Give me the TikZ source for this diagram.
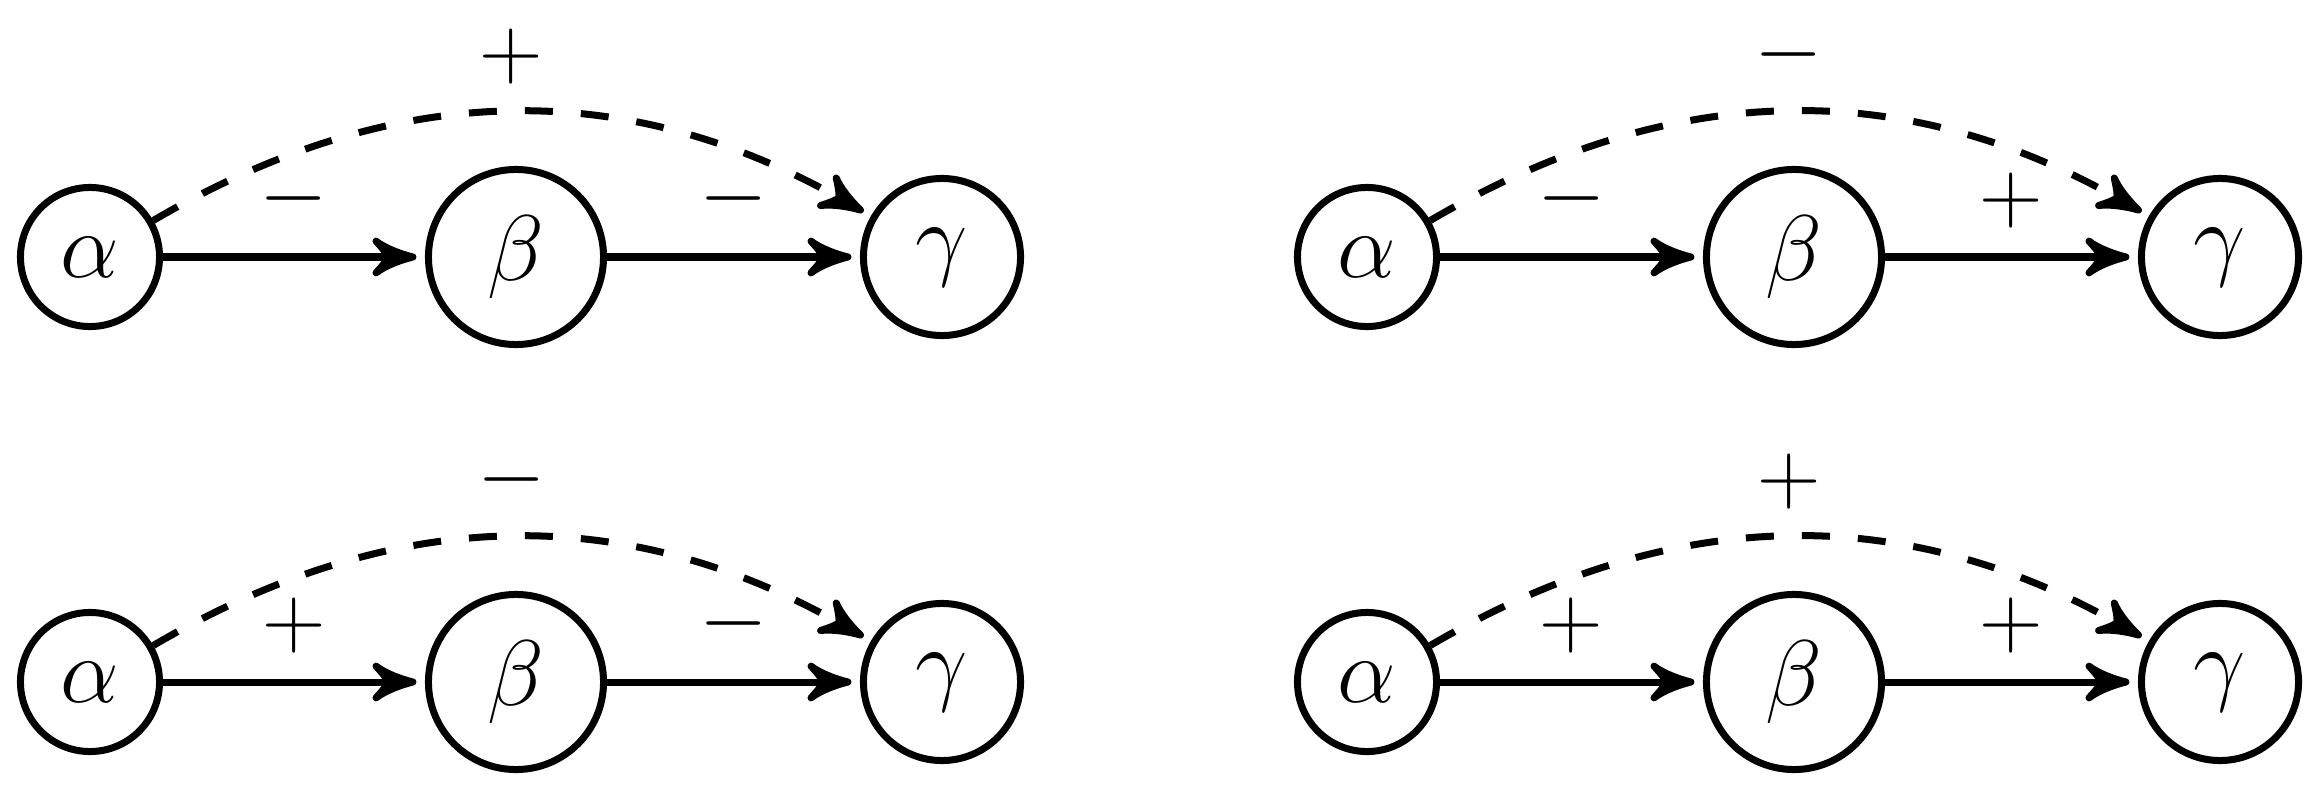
\documentclass[tikz,border=0pt]{standalone}
\usepackage{fix-cm}
\usetikzlibrary{arrows.meta}
\pgfdeclarearrow{
  name = SwooshTip,
  parameters = {\the\pgfarrowlength,\the\pgfarrowwidth},
  setup code = {
    \pgfarrowssettipend{0pt}
    \pgfarrowssetbackend{-\pgfarrowlength}
    \pgfarrowssetlineend{-0.55\pgfarrowlength}
    \pgfarrowssavethe\pgfarrowlength
    \pgfarrowssavethe\pgfarrowwidth
  },
  drawing code = {
    \pgfsetdash{}{0pt}
    \pgfsetroundjoin
    \pgfsetroundcap
    \pgfpathmoveto{\pgfqpoint{0pt}{0pt}}
    \pgfpathcurveto{\pgfpoint{-0.35\pgfarrowlength}{0.10\pgfarrowwidth}}{\pgfpoint{-0.75\pgfarrowlength}{0.28\pgfarrowwidth}}{\pgfpoint{-\pgfarrowlength}{0.5\pgfarrowwidth}}
    \pgfpathcurveto{\pgfpoint{-0.78\pgfarrowlength}{0.22\pgfarrowwidth}}{\pgfpoint{-0.68\pgfarrowlength}{0.06\pgfarrowwidth}}{\pgfpoint{-0.68\pgfarrowlength}{0pt}}
    \pgfpathcurveto{\pgfpoint{-0.68\pgfarrowlength}{-0.06\pgfarrowwidth}}{\pgfpoint{-0.78\pgfarrowlength}{-0.22\pgfarrowwidth}}{\pgfpoint{-\pgfarrowlength}{-0.5\pgfarrowwidth}}
    \pgfpathcurveto{\pgfpoint{-0.75\pgfarrowlength}{-0.28\pgfarrowwidth}}{\pgfpoint{-0.35\pgfarrowlength}{-0.10\pgfarrowwidth}}{\pgfqpoint{0pt}{0pt}}
    \pgfpathclose
    \pgfusepathqfillstroke
  },
  defaults = {length=10pt, width=8.5pt}
}
\tikzset{
  nd/.style={circle, draw, line width=0.07cm, inner sep=0pt, font=\fontsize{26.5}{30}\selectfont},
  nda/.style={nd, minimum size=1.39cm},
  ndb/.style={nd, minimum size=1.75cm},
  ndc/.style={nd, minimum size=1.57cm},
  link/.style={line width=0.07cm, -{SwooshTip[length=10.5pt,width=9pt]}, shorten >=0.12cm},
  dlink/.style={link, dash pattern=on 0.28cm off 0.28cm},
  lbl/.style={above, inner sep=1pt, yshift=0.22cm}
}
\begin{document}
\begin{tikzpicture}[x=0.01cm, y=-0.01cm, font=\fontsize{25}{30}\selectfont]
\useasboundingbox (0,0) rectangle (2314,797);
% panel 1 (top left)
\node[nda] (a1) at (90,257) {$\alpha$};
\node[ndb] (b1) at (516,257) {$\beta$};
\node[ndc] (c1) at (942,257) {$\gamma$};
\draw[link] (a1) -- node[lbl] (l1a) {$-$} (b1);
\draw[link] (b1) -- node[lbl] (l1b) {$-$} (c1);
\draw[dlink] (a1) to[bend left=30] node[lbl] (l1c) {$+$} (c1);
% panel 2 (top right)
\node[nda] (a2) at (1367,257) {$\alpha$};
\node[ndb] (b2) at (1794,257) {$\beta$};
\node[ndc] (c2) at (2220,257) {$\gamma$};
\draw[link] (a2) -- node[lbl] (l2a) {$-$} (b2);
\draw[link] (b2) -- node[lbl] (l2b) {$+$} (c2);
\draw[dlink] (a2) to[bend left=30] node[lbl] (l2c) {$-$} (c2);
% panel 3 (bottom left)
\node[nda] (a3) at (90,682) {$\alpha$};
\node[ndb] (b3) at (516,682) {$\beta$};
\node[ndc] (c3) at (942,682) {$\gamma$};
\draw[link] (a3) -- node[lbl] (l3a) {$+$} (b3);
\draw[link] (b3) -- node[lbl] (l3b) {$-$} (c3);
\draw[dlink] (a3) to[bend left=30] node[lbl] (l3c) {$-$} (c3);
% panel 4 (bottom right)
\node[nda] (a4) at (1367,682) {$\alpha$};
\node[ndb] (b4) at (1794,682) {$\beta$};
\node[ndc] (c4) at (2220,682) {$\gamma$};
\draw[link] (a4) -- node[lbl] (l4a) {$+$} (b4);
\draw[link] (b4) -- node[lbl] (l4b) {$+$} (c4);
\draw[dlink] (a4) to[bend left=30] node[lbl] (l4c) {$+$} (c4);
\end{tikzpicture}
\end{document}
